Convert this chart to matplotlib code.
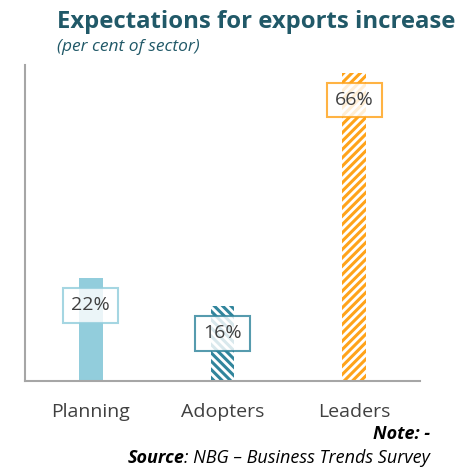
import matplotlib.pyplot as plt

plt.rcParams['font.family'] = ['Open Sans', 'DejaVu Sans']
plt.rcParams['hatch.linewidth'] = 2.2

categories = ['Planning', 'Adopters', 'Leaders']
values = [22, 16, 66]
colors = ['#92CDDC', '#31859C', '#FFA31A']
hatches = [None, '\\\\\\\\', '////']

fig = plt.figure(figsize=(4.64, 4.69), dpi=100)
ax = fig.add_axes([25 / 464, 1 - 381 / 469, 395 / 464, 316 / 469])

x = range(len(categories))
for i, (v, c, h) in enumerate(zip(values, colors, hatches)):
    if h is None:
        ax.bar(i, v, width=0.18, color=c, linewidth=0)
    else:
        ax.bar(i, v, width=0.18, facecolor='white', edgecolor=c, hatch=h, linewidth=0)
    ax.annotate(f'{v}%', xy=(i, v), xytext=(0, -19.5), textcoords='offset points',
                ha='center', va='center', fontsize=14, color='#404040',
                bbox=dict(boxstyle='square,pad=0.42', facecolor='white', alpha=0.82,
                          edgecolor=c, linewidth=1.5))

ax.set_xlim(-0.5, 2.5)
ax.set_ylim(0, 67.7)
ax.set_xticks(list(x))
ax.set_xticklabels(categories, fontsize=14, color='#404040')
ax.tick_params(axis='x', length=0, pad=16)
ax.set_yticks([])
for side in ['top', 'right']:
    ax.spines[side].set_visible(False)
for side in ['left', 'bottom']:
    ax.spines[side].set_color('#A6A6A6')
    ax.spines[side].set_linewidth(1.5)

fig.text(57 / 464, 1 - 22 / 469, 'Expectations for exports increase', fontsize=17.2,
         fontweight='bold', color='#215968', va='center', ha='left')
fig.text(57 / 464, 1 - 47 / 469, '(per cent of sector)', fontsize=12.5,
         style='italic', color='#215968', va='center', ha='left')

fig.text(430 / 464, 1 - 434 / 469, 'Note: -', fontsize=13, style='italic',
         fontweight='bold', color='black', va='center', ha='right')
src = fig.text(430 / 464, 1 - 458 / 469, ': NBG – Business Trends Survey', fontsize=13,
               style='italic', color='black', va='center', ha='right')
ax.annotate('Source', xy=(0, 0.5), xycoords=src, ha='right', va='center',
            fontsize=13, style='italic', fontweight='bold', color='black',
            annotation_clip=False)

fig.savefig('out.png', dpi=100)
